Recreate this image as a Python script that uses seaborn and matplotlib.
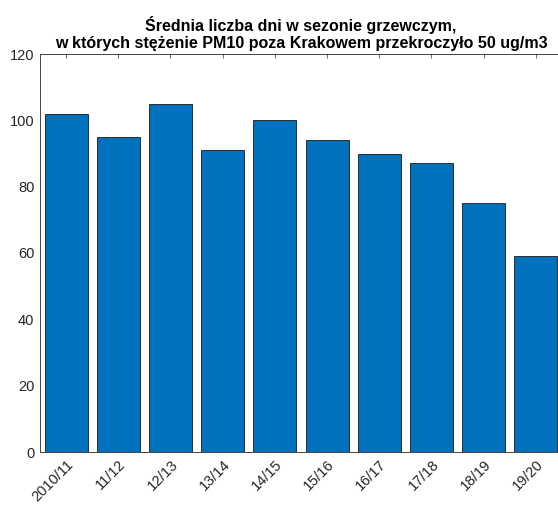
import pandas as pd
import matplotlib
matplotlib.use("Agg")
import matplotlib.pyplot as plt
import seaborn as sns

# heating seasons and average number of days over 50 ug/m3
seasons = ["2010/11", "11/12", "12/13", "13/14", "14/15",
           "15/16", "16/17", "17/18", "18/19", "19/20"]
days = [102, 95, 105, 91, 100, 94, 90, 87, 75, 59]
yticks = [0, 20, 40, 60, 80, 100, 120]

data = pd.DataFrame({"season": seasons, "days": days})

sns.set_style("white")
plt.rcParams["font.family"] = ["Liberation Sans", "DejaVu Sans"]

fig = plt.figure(figsize=(5.58, 5.08), dpi=100)
# axes right edge sits just outside the figure, like the cropped original
ax = fig.add_axes([40 / 558, 56 / 508, 522 / 558, 398 / 508])

sns.barplot(data=data, x="season", y="days", color="#0072BD", saturation=1,
            width=0.82, edgecolor="#1a1a1a", linewidth=0.6, ax=ax)

ax.set_xlim(-0.5, 9.5)
ax.set_ylim(0, 120)
ax.set_yticks(yticks)
ax.set_xlabel("")
ax.set_ylabel("")

grey = "#262626"
for s in ax.spines.values():
    s.set_visible(True)
    s.set_color(grey)
    s.set_linewidth(0.6)
ax.tick_params(direction="in", top=True, right=True, length=3, width=0.5,
               colors=grey, labelsize=10.5, labelcolor=grey)
ax.tick_params(axis="x", pad=4)
ax.tick_params(axis="y", pad=4)
plt.setp(ax.get_xticklabels(), rotation=45, ha="right", rotation_mode="anchor")

ax.set_title("Średnia liczba dni w sezonie grzewczym,\n"
             "w których stężenie PM10 poza Krakowem przekroczyło 50 ug/m3",
             fontsize=11.5, fontweight="bold", color="black", pad=4,
             linespacing=1.2)

fig.savefig("out.png", dpi=100)
